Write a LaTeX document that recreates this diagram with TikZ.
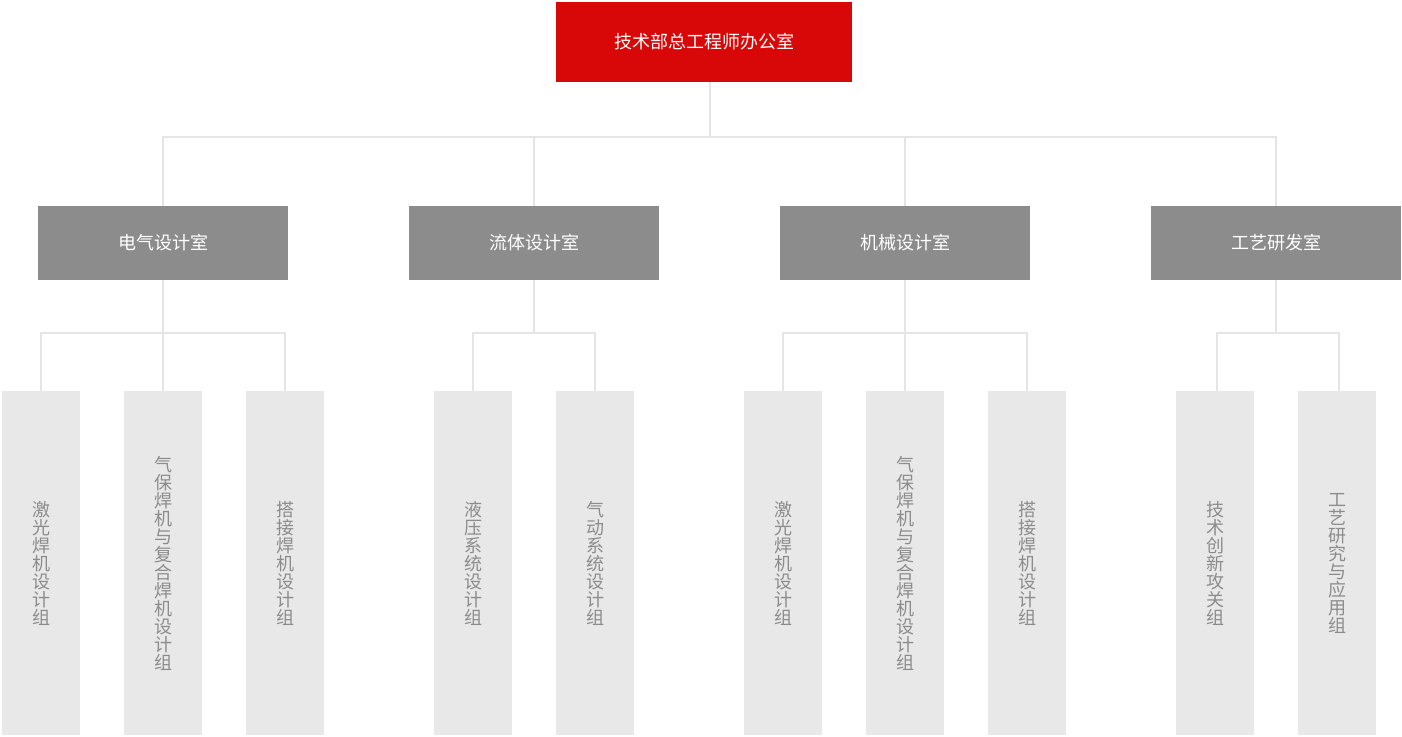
\documentclass[tikz,border=0pt]{standalone}
\usepackage{fontspec}
\newfontfamily\cjk{Noto Sans CJK SC}
\definecolor{redc}{RGB}{217,8,8}
\definecolor{grayc}{RGB}{140,140,140}
\definecolor{leafc}{RGB}{232,232,232}
\definecolor{linec}{RGB}{229,229,229}
\definecolor{leaftextc}{RGB}{140,140,140}
\begin{document}
\begin{tikzpicture}[x=1pt,y=-1pt,
  every node/.style={font=\cjk\fontsize{18}{18}\selectfont, inner sep=0pt},
  topbox/.style={fill=redc, text=white, minimum width=296pt, minimum height=80pt},
  deptbox/.style={fill=grayc, text=white, minimum width=250pt, minimum height=74pt},
  leafbox/.style={fill=leafc, text=leaftextc, minimum width=78pt, minimum height=344pt, align=center},
  conn/.style={draw=linec, line width=2pt}]
\useasboundingbox (0,0) rectangle (1402,736);
% connectors drawn first
\node[topbox] (top) at (704,42) {技术部总工程师办公室};
\node[deptbox] (d1) at (163,243) {电气设计室};
\node[deptbox] (d2) at (534,243) {流体设计室};
\node[deptbox] (d3) at (905,243) {机械设计室};
\node[deptbox] (d4) at (1276,243) {工艺研发室};
\node[leafbox] (l11) at (41,563) {激\\光\\焊\\机\\设\\计\\组};
\node[leafbox] (l12) at (163,563) {气\\保\\焊\\机\\与\\复\\合\\焊\\机\\设\\计\\组};
\node[leafbox] (l13) at (285,563) {搭\\接\\焊\\机\\设\\计\\组};
\node[leafbox] (l21) at (473,563) {液\\压\\系\\统\\设\\计\\组};
\node[leafbox] (l22) at (595,563) {气\\动\\系\\统\\设\\计\\组};
\node[leafbox] (l31) at (783,563) {激\\光\\焊\\机\\设\\计\\组};
\node[leafbox] (l32) at (905,563) {气\\保\\焊\\机\\与\\复\\合\\焊\\机\\设\\计\\组};
\node[leafbox] (l33) at (1027,563) {搭\\接\\焊\\机\\设\\计\\组};
\node[leafbox] (l41) at (1215,563) {技\\术\\创\\新\\攻\\关\\组};
\node[leafbox] (l42) at (1337,563) {工\\艺\\研\\究\\与\\应\\用\\组};
\coordinate (bus0) at (710,137);
\draw[conn] ([xshift=6pt]top.south) -- (bus0);
\foreach \d in {d1,d2,d3,d4} \draw[conn] (bus0) -| (\d.north);
\foreach \l in {l11,l12,l13} \draw[conn] (d1.south) -- ++(0,53) -| (\l.north);
\foreach \l in {l21,l22} \draw[conn] (d2.south) -- ++(0,53) -| (\l.north);
\foreach \l in {l31,l32,l33} \draw[conn] (d3.south) -- ++(0,53) -| (\l.north);
\foreach \l in {l41,l42} \draw[conn] (d4.south) -- ++(0,53) -| ([xshift=2pt]\l.north);
\end{tikzpicture}
\end{document}
